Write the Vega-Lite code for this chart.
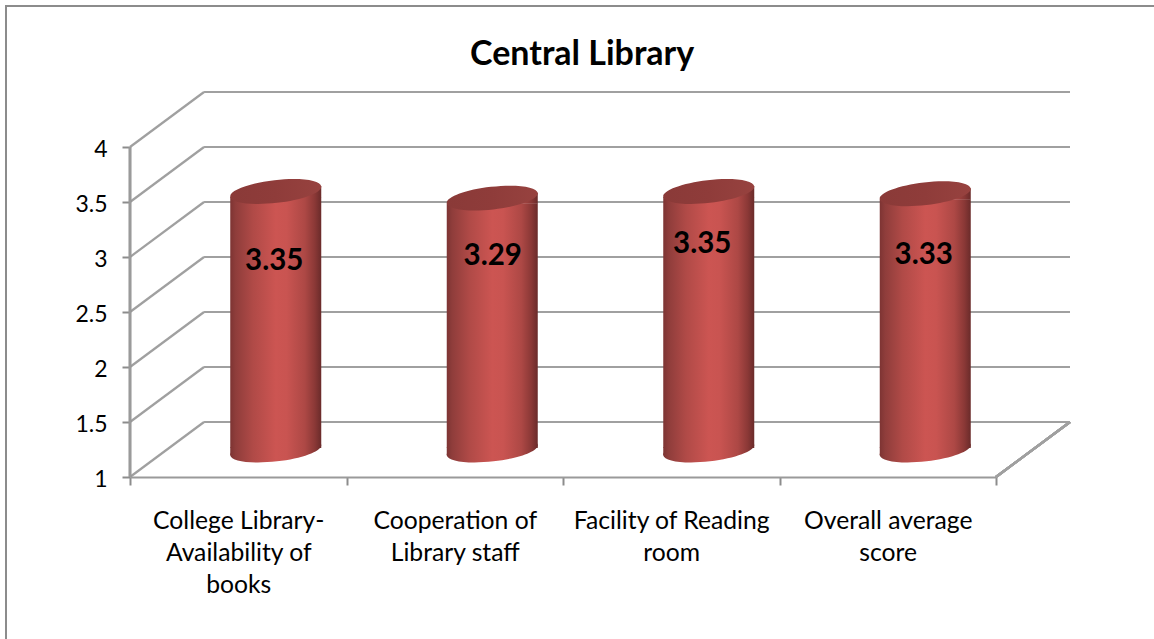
{
"$schema":"https://vega.github.io/schema/vega-lite/v6.json",
"width":1200,"height":700,
"autosize":"none",
"padding":{"left":6,"top":6,"right":0,"bottom":0},
"background":"white",
"view":{"stroke":"#8c8c8c","strokeWidth":2,"fill":"white"},
"title":{"text":"Central Library","font":"Lato","fontSize":34,"fontWeight":"bold","color":"black","anchor":"start","frame":"group","dx":464,"offset":-66},
"config":{"font":"Lato"},
"resolve":{"scale":{"x":"independent"}},
"layer":[
{"data":{"values":[{"v":1,"back":1.5},{"v":1.5,"back":2},{"v":2,"back":2.5},{"v":2.5,"back":3},{"v":3,"back":3.5},{"v":3.5,"back":4},{"v":4,"back":4.5}]},
 "layer":[
 {"mark":{"type":"rule","color":"#a0a0a0","strokeWidth":2.2},
  "encoding":{"x":{"datum":0,"type":"quantitative","scale":{"domain":[0,4.342],"range":[124,1064],"nice":false},"axis":null},"x2":{"datum":0.342},
   "y":{"field":"v","type":"quantitative","scale":{"domain":[1,4.5],"range":[471,86],"nice":false},
     "axis":{"values":[1,1.5,2,2.5,3,3.5,4],"format":"~g","grid":false,"domain":false,"title":null,"offset":-124,"tickSize":8,"tickWidth":2,"tickColor":"#8c8c8c","labelFont":"Lato","labelFontSize":23,"labelColor":"black","labelPadding":15,"labelOffset":2,"labelOverlap":false}},
   "y2":{"field":"back"}}},
 {"mark":{"type":"rule","color":"#a0a0a0","strokeWidth":2.2},
  "encoding":{"x":{"datum":0.342,"type":"quantitative","axis":null},"x2":{"datum":4.342},"y":{"field":"back","type":"quantitative"}}},
 {"mark":{"type":"rule","color":"#9a9a9a","strokeWidth":2.2},
  "encoding":{"x":{"datum":0,"type":"quantitative","axis":null},"y":{"datum":1,"type":"quantitative"},"y2":{"datum":4}}},
 {"mark":{"type":"rule","color":"#a0a0a0","strokeWidth":2.2},
  "encoding":{"x":{"datum":4,"type":"quantitative","axis":null},"x2":{"datum":4.342},"y":{"datum":1,"type":"quantitative"},"y2":{"datum":1.5}}}
 ]},
{"data":{"values":[
 {"category":"College Library-Availability of books","score":3.35},
 {"category":"Cooperation of Library staff","score":3.29},
 {"category":"Facility of Reading room","score":3.35},
 {"category":"Overall average score","score":3.33}]},
 "encoding":{"x":{"field":"category","type":"nominal","sort":null,
   "scale":{"type":"band","domain":["College Library-Availability of books","Cooperation of Library staff","Facility of Reading room","Overall average score"],"range":[124,990],"paddingInner":0,"paddingOuter":0},
   "axis":{"title":null,"offset":-229,"orient":"bottom","tickBand":"extent","tickSize":8,"tickWidth":2,"tickColor":"#8c8c8c","domainColor":"#9a9a9a","domainWidth":2.2,"labelAngle":0,"labelFont":"Lato","labelFontSize":24.7,"labelColor":"black","labelPadding":23,"labelLimit":0,"labelLineHeight":32,"labelOverlap":false,"labelBound":false,"labelFlush":false,
     "labelExpr":"{'College Library-Availability of books':['College Library-','Availability of','books'],'Cooperation of Library staff':['Cooperation of','Library staff'],'Facility of Reading room':['Facility of Reading','room'],'Overall average score':['Overall average','score']}[datum.value]"}}},
 "layer":[
 {"mark":{"type":"point","filled":true,"opacity":1,"strokeWidth":0,"xOffset":37.5,"yOffset":-27,"size":8281,
    "shape":"M-1,0.114 A1.006,0.25,-6.5,1,1,1,-0.114 A1.006,0.25,-6.5,1,1,-1,0.114Z",
    "fill":{"gradient":"linear","x1":0,"x2":1,"y1":0,"y2":0,"stops":[{"offset":0,"color":"#7d3433"},{"offset":0.06,"color":"#8f3d3b"},{"offset":0.25,"color":"#b04a47"},{"offset":0.5,"color":"#cc5552"},{"offset":0.62,"color":"#c95451"},{"offset":0.82,"color":"#ad4845"},{"offset":0.93,"color":"#8a3836"},{"offset":1,"color":"#6a2b2a"}]}},
  "encoding":{"y":{"datum":1,"type":"quantitative"}}},
 {"mark":{"type":"point","filled":true,"opacity":1,"strokeWidth":0,"xOffset":37.5,"yOffset":-27,"size":8281,
    "shape":"M-1,-0.06 L1,-0.06 L-1,0.114Z",
    "fill":{"gradient":"linear","x1":0,"x2":1,"y1":0,"y2":0,"stops":[{"offset":0,"color":"#7d3433"},{"offset":0.06,"color":"#8f3d3b"},{"offset":0.25,"color":"#b04a47"},{"offset":0.5,"color":"#cc5552"},{"offset":0.62,"color":"#c95451"},{"offset":0.82,"color":"#ad4845"},{"offset":0.93,"color":"#8a3836"},{"offset":1,"color":"#6a2b2a"}]}},
  "encoding":{"y":{"datum":1,"type":"quantitative"}}},
 {"mark":{"type":"bar","width":91,"xOffset":37.5,"yOffset":-21.5,"y2Offset":-29,
    "fill":{"gradient":"linear","x1":0,"x2":1,"y1":0,"y2":0,"stops":[{"offset":0,"color":"#7d3433"},{"offset":0.06,"color":"#8f3d3b"},{"offset":0.25,"color":"#b04a47"},{"offset":0.5,"color":"#cc5552"},{"offset":0.62,"color":"#c95451"},{"offset":0.82,"color":"#ad4845"},{"offset":0.93,"color":"#8a3836"},{"offset":1,"color":"#6a2b2a"}]}},
  "encoding":{"y":{"field":"score","type":"quantitative"},"y2":{"datum":1}}},
 {"mark":{"type":"point","filled":true,"opacity":1,"strokeWidth":0,"xOffset":37.5,"yOffset":-27,"size":8281,
    "shape":"M-1,0.12 L1,-0.12 L1,0.125 L-1,0.125Z",
    "fill":{"gradient":"linear","x1":0,"x2":1,"y1":0,"y2":0,"stops":[{"offset":0,"color":"#7d3433"},{"offset":0.06,"color":"#8f3d3b"},{"offset":0.25,"color":"#b04a47"},{"offset":0.5,"color":"#cc5552"},{"offset":0.62,"color":"#c95451"},{"offset":0.82,"color":"#ad4845"},{"offset":0.93,"color":"#8a3836"},{"offset":1,"color":"#6a2b2a"}]}},
  "encoding":{"y":{"field":"score","type":"quantitative"}}},
 {"mark":{"type":"point","filled":true,"opacity":1,"strokeWidth":0,"xOffset":37.5,"yOffset":-27,"size":8281,
    "shape":"M-1,0.114 A1.006,0.25,-6.5,1,1,1,-0.114 A1.006,0.25,-6.5,1,1,-1,0.114Z",
    "fill":{"gradient":"linear","x1":0,"x2":1,"y1":0,"y2":0,"stops":[{"offset":0,"color":"#8a3a38"},{"offset":0.5,"color":"#8f3c3a"},{"offset":1,"color":"#97423f"}]}},
  "encoding":{"y":{"field":"score","type":"quantitative"}}},
 {"mark":{"type":"text","font":"Lato","fontSize":29.5,"fontWeight":"bold","color":"black","baseline":"middle",
    "xOffset":{"expr":"{'College Library-Availability of books':36,'Cooperation of Library staff':38,'Facility of Reading room':31,'Overall average score':36}[datum.category]"},
    "yOffset":{"expr":"{'College Library-Availability of books':42.5,'Cooperation of Library staff':31,'Facility of Reading room':25.5,'Overall average score':34.3}[datum.category]"}},
  "encoding":{"y":{"field":"score","type":"quantitative"},"text":{"field":"score","type":"quantitative","format":".2f"}}}
 ]}
]
}
